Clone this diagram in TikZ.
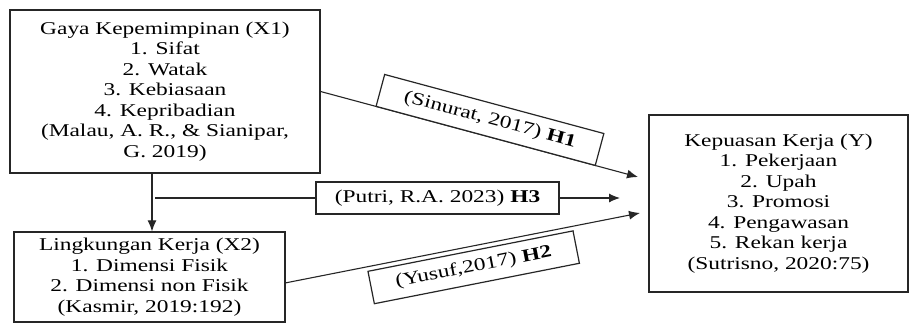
\documentclass[tikz,border=0pt]{standalone}
\usepackage{fontspec}
\setmainfont{Liberation Serif}[FakeStretch=1.3]
\usetikzlibrary{arrows.meta}
\begin{document}
\begin{tikzpicture}[x=1pt,y=-1pt,
  every node/.style={font=\fontsize{18}{20.5}\selectfont, text=black},
  box/.style={draw=black!85, line width=1.2pt, fill=white, align=center, inner sep=0pt},
  conn/.style={line width=1.1pt, draw=black!85},
  arr/.style={conn, -{Latex[length=11pt,width=9pt]}},
  lbl/.style={box, minimum height=33pt, sloped}
]
\useasboundingbox[fill=white] (0,0) rectangle (910,332);

\node[box, minimum width=310pt, minimum height=163pt] (X1) at (165,91.5)
  {Gaya Kepemimpinan (X1)\\1. Sifat\\2. Watak\\3. Kebiasaan\\4. Kepribadian\\(Malau, A. R., \& Sianipar,\\G. 2019)};
\node[box, minimum width=271pt, minimum height=90pt] (X2) at (149.5,277)
  {Lingkungan Kerja (X2)\\1. Dimensi Fisik\\2. Dimensi non Fisik\\(Kasmir, 2019:192)};
\node[box, minimum width=259pt, minimum height=177pt] (Y) at (778.5,203.5)
  {Kepuasan Kerja (Y)\\1. Pekerjaan\\2. Upah\\3. Promosi\\4. Pengawasan\\5. Rekan kerja\\(Sutrisno, 2020:75)};
\node[box, minimum width=243pt, minimum height=32pt] (H3) at (437.5,198)
  {(Putri, R.A. 2023) \textbf{H3}};

\coordinate (vx) at (152,200);
\coordinate (h3s) at (155,198);
\coordinate (h3e) at (620,198);
\coordinate (h1e) at (638,177);
\coordinate (h2s) at (285,283);
\coordinate (h2e) at (640,213);

\draw[arr] (X1.south -| vx) -- (X2.north -| vx);
\draw[conn] (h3s) -- (H3.west);
\draw[arr] (H3.east) -- (h3e);
\draw[arr] (X1.east) -- (h1e)
  node[lbl, minimum width=227pt, pos=0.52, above=-0.5pt] (H1) {(Sinurat, 2017) \textbf{H1}};
\draw[arr] (h2s) -- (h2e)
  node[lbl, minimum width=209pt, pos=0.52, below=4pt] (H2) {(Yusuf,2017) \textbf{H2}};
\end{tikzpicture}
\end{document}
